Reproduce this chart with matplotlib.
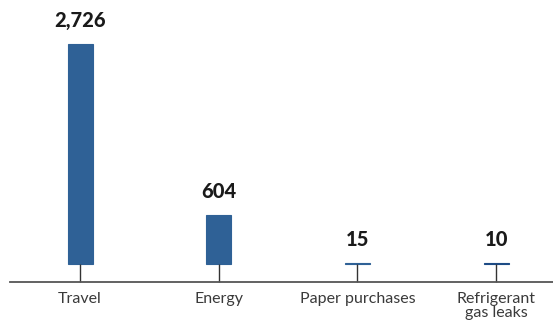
import matplotlib
matplotlib.use('Agg')
import matplotlib.pyplot as plt

plt.rcParams['font.family'] = ['Lato', 'DejaVu Sans']

# Данные
categories = ['Travel', 'Energy', 'Paper purchases', 'Refrigerant\ngas leaks']
values = [2726, 604, 15, 10]
value_labels = ['2,726', '604', '15', '10']
bar_colors = ['#2f6196', '#2f6196', '#2f6196', '#1d4b85']

fig = plt.figure(figsize=(5.53, 3.22), dpi=100)
ax = fig.add_axes([10 / 553, 40 / 322, 543 / 553, 282 / 322])

x = list(range(len(categories)))
bars = ax.bar(x, values, width=0.18, color=bar_colors, edgecolor=bar_colors, linewidth=0.8)

# Подписи значений над столбцами
for bar, label in zip(bars, value_labels):
    ax.annotate(label, (bar.get_x() + bar.get_width() / 2, bar.get_height()),
                xytext=(0, 10), textcoords='offset points',
                ha='center', va='bottom', fontsize=14.5, fontweight='black', color='#1a1a1a')

ax.set_xlim(-0.505, 3.41)
ax.set_ylim(-223, 3271)

# Оси
for side in ['top', 'right', 'left']:
    ax.spines[side].set_visible(False)
ax.spines['bottom'].set_color('#555555')
ax.spines['bottom'].set_linewidth(1.3)
ax.set_yticks([])

ax.set_xticks(x)
ax.set_xticklabels(categories, fontsize=11.5, color='#3a3a3a', linespacing=1.05)
ax.tick_params(axis='x', direction='in', length=13, width=1, color='#333333', pad=7)

fig.savefig('out.png', dpi=100)
plt.close(fig)
